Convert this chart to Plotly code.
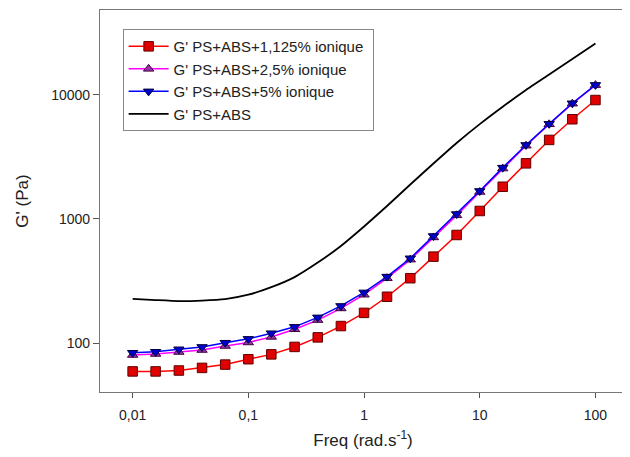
import plotly.graph_objects as go

freq = [0.01, 0.0158, 0.0251, 0.0398, 0.0631, 0.1, 0.158, 0.251, 0.398, 0.631,
        1, 1.58, 2.51, 3.98, 6.31, 10, 15.8, 25.1, 39.8, 63.1, 100]

g_1125 = [59, 59, 60, 63, 67, 74, 81, 93, 111, 137,
          175, 236, 333, 497, 743, 1160, 1820, 2810, 4340, 6370, 9100]
g_25 = [80, 81.5, 84.6, 87.8, 94.6, 101, 112, 129, 153, 190,
        245, 333, 470, 710, 1070, 1650, 2550, 3900, 5800, 8500, 12000]
g_5 = [83.5, 85, 89, 93, 100.6, 108, 120, 135, 161, 199,
       256, 343, 482, 729, 1097, 1683, 2594, 3953, 5850, 8570, 12050]
g_ref = [227, 222, 218, 220, 226, 245, 282, 340, 445, 606,
         870, 1273, 1897, 2800, 4100, 5820, 8040, 10960, 14620, 19500, 26000]

names = ["G' PS+ABS+1,125% ionique\u00a0", "G' PS+ABS+2,5% ionique",
         "G' PS+ABS+5% ionique", "G' PS+ABS"]

x_tickvals = [0.01, 0.1, 1, 10, 100]
x_ticktext = ["0,01", "0,1", "1", "10", "100"]
y_tickvals = [100, 1000, 10000]
y_ticktext = ["100", "1000", "10000"]

fig = go.Figure()
fig.add_trace(go.Scatter(x=freq, y=g_1125, name=names[0], mode="lines+markers",
                         line=dict(color="#FF0000", width=1.5),
                         marker=dict(symbol="square", size=9.5, color="#E00000",
                                     line=dict(color="#600000", width=1))))
fig.add_trace(go.Scatter(x=freq, y=g_25, name=names[1], mode="lines+markers",
                         line=dict(color="#FF00FF", width=1.5),
                         marker=dict(symbol="triangle-up", size=9, color="#9933AA",
                                     line=dict(color="#400040", width=1))))
fig.add_trace(go.Scatter(x=freq, y=g_5, name=names[2], mode="lines+markers",
                         line=dict(color="#0000FF", width=1.5),
                         marker=dict(symbol="triangle-down", size=9, color="#0000CC",
                                     line=dict(color="#000040", width=1))))
fig.add_trace(go.Scatter(x=freq, y=g_ref, name=names[3], mode="lines",
                         line=dict(color="#000000", width=1.8, shape="spline", smoothing=0.5)))

font = "Liberation Sans, Arial, sans-serif"
fig.update_layout(
    width=622, height=449,
    margin=dict(l=92, r=4, t=2, b=65, autoexpand=False),
    paper_bgcolor="white", plot_bgcolor="white",
    font=dict(family=font, size=14, color="#222"),
    showlegend=True,
    legend=dict(x=0.043, y=0.95, xanchor="left", yanchor="top",
                bgcolor="white", bordercolor="#888", borderwidth=1,
                itemwidth=40,
                font=dict(size=15, color="#222"), tracegroupgap=0),
)
fig.update_xaxes(type="log", range=[-2.282, 2.264],
                 tickvals=x_tickvals, ticktext=x_ticktext,
                 ticks="outside", ticklen=5, tickcolor="#555",
                 ticklabelstandoff=5,
                 showline=True, linecolor="#777", linewidth=1.2, mirror=True,
                 showgrid=False, zeroline=False,
                 title=dict(text="Freq (rad.s<sup>-1</sup>)", font=dict(size=17), standoff=12),
                 tickfont=dict(size=14))
fig.update_yaxes(type="log", range=[1.605, 4.685],
                 tickvals=y_tickvals, ticktext=y_ticktext,
                 ticks="outside", ticklen=6, tickcolor="#555",
                 showline=True, linecolor="#777", linewidth=1.2, mirror=True,
                 showgrid=False, zeroline=False,
                 title=dict(text="G' (Pa)", font=dict(size=17), standoff=18),
                 tickfont=dict(size=14))

fig.write_html("out.html")
